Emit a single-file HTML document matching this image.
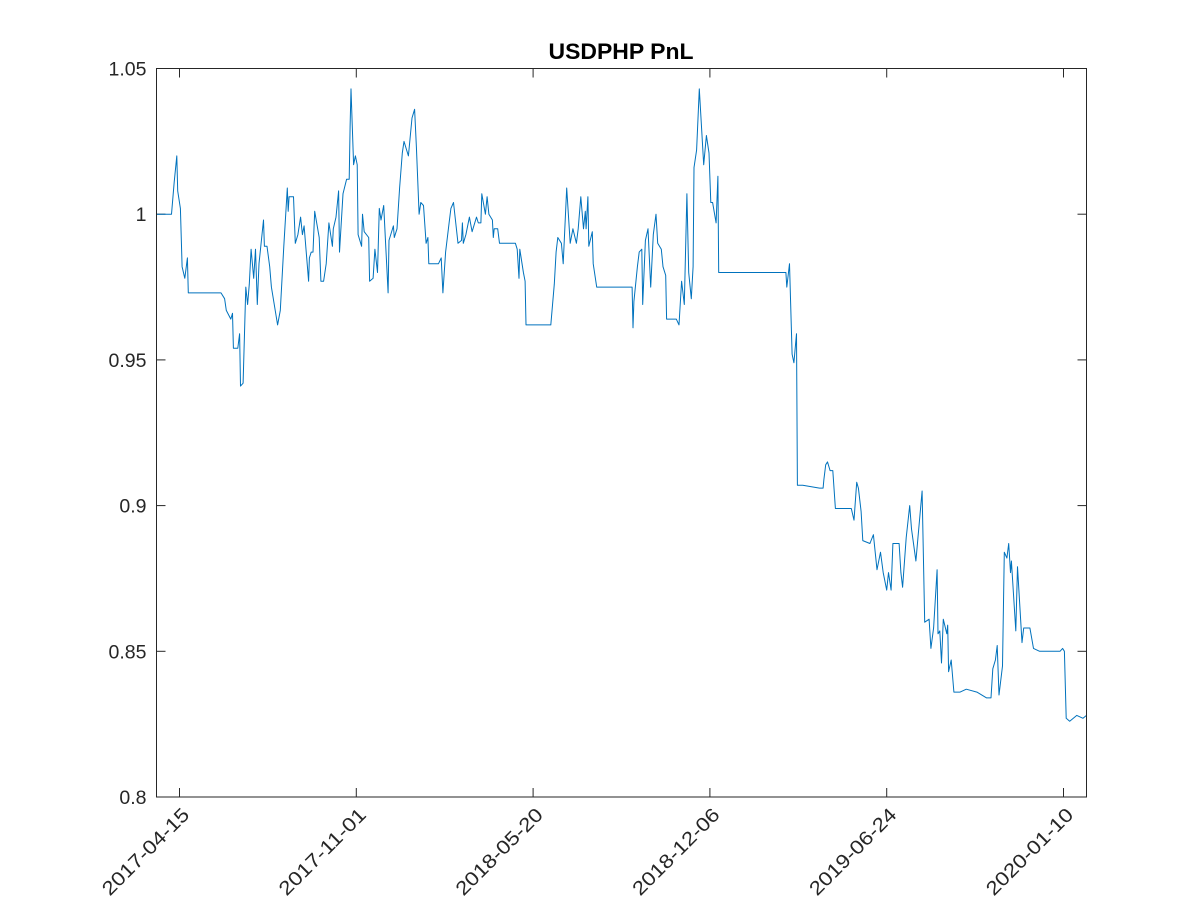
<!DOCTYPE html>
<html><head><meta charset="utf-8"><style>
html,body{margin:0;padding:0;background:#fff;}
svg{display:block;font-family:"Liberation Sans",Arial,sans-serif;}
</style></head><body>
<svg id="chart" width="1200" height="900" viewBox="0 0 1200 900" xmlns="http://www.w3.org/2000/svg">
<rect x="0" y="0" width="1200" height="900" fill="#fff"/>
<text x="621" y="59" text-anchor="middle" font-size="22" font-weight="bold" fill="#000" textLength="145" lengthAdjust="spacingAndGlyphs">USDPHP PnL</text>
<g id="grid"></g>
<path id="series" fill="none" stroke="#0072BD" stroke-width="1" stroke-linejoin="round"/>
<rect x="156.5" y="68.5" width="930" height="728.5" fill="none" stroke="#262626" stroke-width="1"/>
</svg>
<script>
const days=[0,17,20,23,24,27,29,32,35,36,73,77,79,84,86,87,92,94,95,98,101,103,105,107,110,112,114,116,121,122,125,128,130,137,140,144,148,149,150,155,157,160,163,165,167,172,173,175,177,179,184,186,189,192,195,199,200,203,206,207,211,215,218,219,220,223,225,227,228,232,233,235,240,241,245,247,250,252,254,257,262,263,268,269,272,275,278,280,285,289,292,294,297,299,302,305,307,308,319,322,324,327,331,333,336,341,345,346,347,350,354,357,362,364,367,368,372,374,376,380,381,382,386,388,406,408,410,411,415,417,418,446,450,452,454,458,460,464,468,471,475,477,480,483,485,486,488,489,493,494,498,538,539,540,544,546,549,550,553,556,559,562,565,567,571,573,576,577,588,591,594,597,600,602,605,607,608,611,614,619,622,625,627,629,633,635,636,712,713,716,719,721,724,725,731,750,754,755,757,759,762,765,768,775,786,789,792,794,797,799,807,811,815,819,822,826,828,831,833,836,840,842,844,848,852,854,859,861,866,869,874,876,879,883,884,886,888,890,894,895,896,899,902,909,916,928,939,944,946,949,951,953,957,959,962,964,966,967,972,974,979,981,984,988,992,999,1007,1022,1025,1027,1029,1033,1041,1048,1052];
const values=[1.000,1.000,1.011,1.020,1.008,1.002,0.982,0.978,0.985,0.973,0.973,0.971,0.967,0.964,0.966,0.954,0.954,0.959,0.941,0.942,0.975,0.969,0.976,0.988,0.978,0.988,0.969,0.983,0.998,0.989,0.989,0.982,0.975,0.962,0.967,0.989,1.009,1.001,1.006,1.006,0.990,0.993,0.999,0.993,0.996,0.977,0.985,0.987,0.987,1.001,0.992,0.977,0.977,0.983,0.997,0.989,0.995,0.999,1.008,0.987,1.007,1.012,1.012,1.030,1.043,1.017,1.020,1.017,0.993,0.989,1.000,0.994,0.992,0.977,0.978,0.988,0.980,1.002,0.998,1.003,0.973,0.991,0.996,0.992,0.995,1.009,1.021,1.025,1.020,1.033,1.036,1.023,1.000,1.004,1.003,0.990,0.992,0.983,0.983,0.985,0.973,0.987,0.997,1.002,1.004,0.990,0.991,0.997,0.990,0.993,0.999,0.994,0.999,0.997,0.997,1.007,1.000,1.006,1.000,0.998,0.992,0.995,0.995,0.990,0.990,0.988,0.978,0.988,0.980,0.977,0.962,0.962,0.976,0.987,0.992,0.990,0.983,1.009,0.990,0.995,0.990,0.995,1.006,0.995,1.001,0.995,1.006,0.989,0.994,0.983,0.975,0.975,0.961,0.970,0.982,0.987,0.988,0.969,0.991,0.995,0.975,0.993,1.000,0.990,0.988,0.982,0.979,0.964,0.964,0.962,0.977,0.969,1.007,0.980,0.971,0.982,1.016,1.022,1.043,1.017,1.027,1.021,1.004,1.004,0.997,1.013,0.980,0.980,0.975,0.983,0.952,0.949,0.959,0.907,0.907,0.906,0.906,0.909,0.914,0.915,0.912,0.912,0.899,0.899,0.899,0.895,0.908,0.906,0.898,0.888,0.887,0.890,0.878,0.884,0.877,0.871,0.877,0.871,0.887,0.887,0.887,0.877,0.872,0.889,0.900,0.892,0.881,0.888,0.905,0.860,0.861,0.851,0.858,0.878,0.856,0.857,0.846,0.861,0.856,0.859,0.843,0.847,0.836,0.836,0.837,0.836,0.834,0.834,0.844,0.847,0.852,0.835,0.845,0.884,0.882,0.887,0.877,0.881,0.857,0.879,0.853,0.858,0.858,0.858,0.851,0.850,0.850,0.850,0.851,0.850,0.827,0.826,0.828,0.827,0.828];
const xTickDays=[26,226,426,626,826,1026];
const xTickLabels=["2017-04-15","2017-11-01","2018-05-20","2018-12-06","2019-06-24","2020-01-10"];
const yTicks=[0.8,0.85,0.9,0.95,1,1.05];
const yTickLabels=["0.8","0.85","0.9","0.95","1","1.05"];

const L=156.5,R=1086.5,T=68.5,B=797;
const dMin=0,dMax=1052,vMin=0.8,vMax=1.05;
const xs=d=>L+(d-dMin)/(dMax-dMin)*(R-L);
const ys=v=>B-(v-vMin)/(vMax-vMin)*(B-T);
const NS="http://www.w3.org/2000/svg";
const g=document.getElementById('grid');
function mk(tag,attrs){const e=document.createElementNS(NS,tag);for(const k in attrs)e.setAttribute(k,attrs[k]);return e;}
yTicks.forEach((v,i)=>{
  const y=ys(v);
  const t1=mk('line',{x1:L,x2:L+9,y1:y,y2:y,stroke:'#262626'});
  
  
  g.appendChild(t1);
  const t2=mk('line',{x1:R-9,x2:R,y1:y,y2:y,stroke:'#262626'});
  
  
  g.appendChild(t2);
  const tx=mk('text',{x:L-10,y:y+7,'text-anchor':'end','font-size':'19.5',fill:'#262626'});
  tx.textContent=yTickLabels[i];
  
  
  g.appendChild(tx);
});
xTickDays.forEach((d,i)=>{
  const x=xs(d);
  const t1=mk('line',{x1:x,x2:x,y1:B,y2:B-9,stroke:'#262626'});
  
  
  g.appendChild(t1);
  const t2=mk('line',{x1:x,x2:x,y1:T,y2:T+9,stroke:'#262626'});
  
  
  g.appendChild(t2);
  const ax=x+11, ay=B+19;
  const tx=mk('text',{x:ax,y:ay,'text-anchor':'end','font-size':'19.5',fill:'#262626',textLength:'114',lengthAdjust:'spacingAndGlyphs',transform:`rotate(-45 ${ax} ${ay})`});
  tx.textContent=xTickLabels[i];
  
  
  g.appendChild(tx);
});
document.getElementById('series').setAttribute('d',days.map((d,i)=>(i?'L':'M')+xs(d).toFixed(1)+' '+ys(values[i]).toFixed(1)).join(' '));
</script>
</body></html>
